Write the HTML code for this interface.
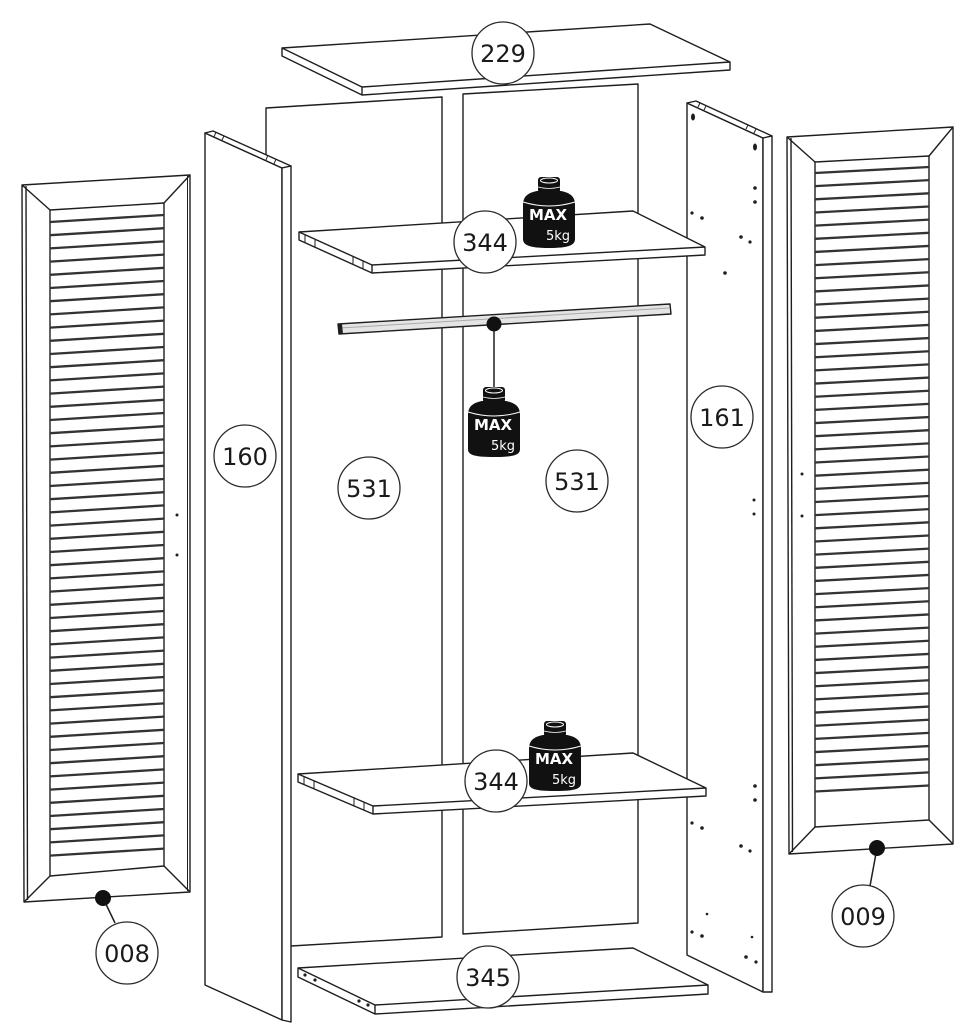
<!DOCTYPE html>
<html><head><meta charset="utf-8">
<style>
html,body{margin:0;padding:0;background:#fff;}
svg{display:block;}
.l{fill:#fff;stroke:#1e1e1e;stroke-width:1.4;stroke-linejoin:round;}
.n{fill:none;stroke:#1e1e1e;stroke-width:1.4;stroke-linejoin:round;}
.t{fill:none;stroke:#1e1e1e;stroke-width:1;}
.c{fill:#fff;stroke:#2a2a2a;stroke-width:1.3;}
.lbl{font-family:"DejaVu Sans","Liberation Sans",sans-serif;font-size:24px;fill:#1a1a1a;text-anchor:middle;}
.slat{fill:none;stroke:#333;stroke-width:2.3;}
.mx{font-family:"DejaVu Sans","Liberation Sans",sans-serif;font-weight:bold;fill:#fff;text-anchor:middle;font-size:15px;}
.kg{font-family:"DejaVu Sans","Liberation Sans",sans-serif;font-weight:normal;fill:#fff;text-anchor:middle;font-size:13px;}
</style></head><body>
<svg width="969" height="1024" viewBox="0 0 969 1024">

<!-- back panels -->
<polygon class="l" points="266,108 442,97 442,937 266,947.5"/>
<polygon class="l" points="463,94 638,84 638,923 463,934"/>

<!-- right side panel 161 -->
<polygon class="l" points="687,103 763,138 763,992 687,955"/>
<polygon class="l" points="687,103 696,101 772,136 763,138"/>
<polygon class="l" points="763,138 772,136 772,992 763,992"/>
<line class="t" x1="700" y1="103" x2="698" y2="107"/>
<line class="t" x1="706" y1="106" x2="704" y2="110"/>
<line class="t" x1="748" y1="125" x2="746" y2="129"/>
<line class="t" x1="756" y1="129" x2="754" y2="133"/>
<g fill="#1e1e1e">
<ellipse cx="693" cy="117" rx="2" ry="3.5"/>
<ellipse cx="755" cy="147" rx="2" ry="3.5"/>
<circle cx="755" cy="188" r="1.8"/><circle cx="755" cy="202" r="1.8"/>
<circle cx="692" cy="213" r="1.6"/><circle cx="702" cy="218" r="1.8"/>
<circle cx="741" cy="237" r="1.8"/><circle cx="750" cy="242" r="1.6"/>
<circle cx="725" cy="273" r="1.8"/>
<circle cx="754" cy="500" r="1.5"/><circle cx="754" cy="514" r="1.5"/>
<circle cx="755" cy="786" r="1.8"/><circle cx="755" cy="800" r="1.8"/>
<circle cx="692" cy="823" r="1.6"/><circle cx="702" cy="828" r="1.8"/>
<circle cx="741" cy="846" r="1.8"/><circle cx="750" cy="851" r="1.6"/>
<circle cx="707" cy="914" r="1.3"/>
<circle cx="692" cy="932" r="1.6"/><circle cx="702" cy="936" r="1.8"/>
<circle cx="752" cy="937" r="1.3"/>
<circle cx="746" cy="957" r="1.8"/><circle cx="756" cy="962" r="1.6"/>
</g>

<!-- left side panel 160 -->
<polygon class="l" points="205,133 282,168 282,1020 205,985"/>
<polygon class="l" points="205,133 213,131 291,166 282,168"/>
<polygon class="l" points="282,168 291,166 291,1022 282,1020"/>
<line class="t" x1="216" y1="132" x2="214" y2="137"/>
<line class="t" x1="224" y1="136" x2="222" y2="140"/>
<line class="t" x1="268" y1="155" x2="266" y2="160"/>
<line class="t" x1="276" y1="159" x2="274" y2="164"/>

<!-- top 229 -->
<polygon class="l" points="282,48 650,24 730,62 730,70 362,95 282,56"/>
<polyline class="n" points="282,48 362,87 730,62"/>
<line class="n" x1="362" y1="87" x2="362" y2="95"/>

<!-- upper shelf 344 -->
<polygon class="l" points="299,232 633,211 705,247 705,255 372,273 299,240"/>
<polyline class="n" points="299,232 372,265 705,247"/>
<line class="n" x1="372" y1="265" x2="372" y2="273"/>
<line class="t" x1="305" y1="235" x2="305" y2="243"/>
<line class="t" x1="315" y1="240" x2="315" y2="248"/>
<line class="t" x1="353" y1="257" x2="353" y2="265"/>
<line class="t" x1="363" y1="261" x2="363" y2="269"/>

<!-- lower shelf 344 -->
<polygon class="l" points="298,774 633,753 706,788 706,796 373,814 298,782"/>
<polyline class="n" points="298,774 373,806 706,788"/>
<line class="n" x1="373" y1="806" x2="373" y2="814"/>
<line class="t" x1="304" y1="777" x2="304" y2="785"/>
<line class="t" x1="314" y1="781" x2="314" y2="789"/>
<line class="t" x1="354" y1="798" x2="354" y2="806"/>
<line class="t" x1="364" y1="802" x2="364" y2="810"/>

<!-- bottom 345 -->
<polygon class="l" points="298,968 633,948 708,985 708,994 375,1014 298,977"/>
<polyline class="n" points="298,968 375,1005 708,985"/>
<line class="n" x1="375" y1="1005" x2="375" y2="1014"/>
<g fill="#1e1e1e">
<circle cx="305" cy="975" r="1.6"/><circle cx="315" cy="980" r="1.6"/>
<circle cx="359" cy="1001" r="1.6"/><circle cx="368" cy="1005" r="1.6"/>
</g>

<!-- rail -->
<polygon points="338,324 670,304 671,314 339,334" fill="#e4e4e4" stroke="#1e1e1e" stroke-width="1.4" stroke-linejoin="round"/>
<line x1="340" y1="328" x2="669" y2="308" stroke="#aaa" stroke-width="1"/>
<polygon points="338,324 342,324 343,334 339,334" fill="#1e1e1e"/>
<line x1="494" y1="324" x2="494" y2="389" stroke="#1e1e1e" stroke-width="1.5"/>
<circle cx="494" cy="324" r="7.5" fill="#111"/>

<!-- weights -->
<g transform="translate(549,177)">
 <path d="M-12,14 L12,14 C22,16 26,20 26,28 L26,62 C26,68 20,71 0,71 C-20,71 -26,68 -26,62 L-26,28 C-26,20 -22,16 -12,14 Z" fill="#111"/>
 <rect x="-11" y="0" width="22" height="16" rx="3" fill="#111"/>
 <ellipse cx="0" cy="3.5" rx="8.5" ry="2.5" fill="none" stroke="#fff" stroke-width="1"/>
 <path d="M-11,10 Q0,13 11,10" stroke="#fff" fill="none" stroke-width="0.8"/>
 <path d="M-26,25 Q0,33 26,25" stroke="#fff" fill="none" stroke-width="1"/>
 <text class="mx" x="-1" y="43">MAX</text>
 <text class="kg" x="9" y="63">5kg</text>
</g>
<g transform="translate(494,387)">
 <path d="M-12,14 L12,14 C22,16 26,20 26,28 L26,62 C26,68 20,70 0,70 C-20,70 -26,68 -26,62 L-26,28 C-26,20 -22,16 -12,14 Z" fill="#111"/>
 <rect x="-11" y="0" width="22" height="16" rx="3" fill="#111"/>
 <ellipse cx="0" cy="3.5" rx="8.5" ry="2.5" fill="none" stroke="#fff" stroke-width="1"/>
 <path d="M-11,10 Q0,13 11,10" stroke="#fff" fill="none" stroke-width="0.8"/>
 <path d="M-26,25 Q0,33 26,25" stroke="#fff" fill="none" stroke-width="1"/>
 <text class="mx" x="-1" y="43">MAX</text>
 <text class="kg" x="9" y="63">5kg</text>
</g>
<g transform="translate(555,721)">
 <path d="M-12,14 L12,14 C22,16 26,20 26,28 L26,62 C26,68 20,70 0,70 C-20,70 -26,68 -26,62 L-26,28 C-26,20 -22,16 -12,14 Z" fill="#111"/>
 <rect x="-11" y="0" width="22" height="16" rx="3" fill="#111"/>
 <ellipse cx="0" cy="3.5" rx="8.5" ry="2.5" fill="none" stroke="#fff" stroke-width="1"/>
 <path d="M-11,10 Q0,13 11,10" stroke="#fff" fill="none" stroke-width="0.8"/>
 <path d="M-26,25 Q0,33 26,25" stroke="#fff" fill="none" stroke-width="1"/>
 <text class="mx" x="-1" y="43">MAX</text>
 <text class="kg" x="9" y="63">5kg</text>
</g>

<!-- left door 008 -->
<polygon class="l" points="22,185 190,175 190,892 24,902"/>
<line class="n" x1="26" y1="186" x2="27.5" y2="900"/>
<line class="t" x1="187.5" y1="176" x2="187.5" y2="891"/>
<polygon class="l" points="50,210 164,203 164,866 50,876"/>
<line class="n" x1="22" y1="185" x2="50" y2="210"/>
<line class="n" x1="190" y1="175" x2="164" y2="203"/>
<line class="n" x1="190" y1="892" x2="164" y2="866"/>
<line class="n" x1="24" y1="902" x2="50" y2="876"/>
<path class="slat" d="M50,222 l114,-7 m-114,20.2 l114,-7 m-114,20.2 l114,-7 m-114,20.2 l114,-7 m-114,20.2 l114,-7 m-114,20.2 l114,-7 m-114,20.2 l114,-7 m-114,20.2 l114,-7 m-114,20.2 l114,-7 m-114,20.2 l114,-7 m-114,20.2 l114,-7 m-114,20.2 l114,-7 m-114,20.2 l114,-7 m-114,20.2 l114,-7 m-114,20.2 l114,-7 m-114,20.2 l114,-7 m-114,20.2 l114,-7 m-114,20.2 l114,-7 m-114,20.2 l114,-7 m-114,20.2 l114,-7 m-114,20.2 l114,-7 m-114,20.2 l114,-7 m-114,20.2 l114,-7 m-114,20.2 l114,-7 m-114,20.2 l114,-7 m-114,20.2 l114,-7 m-114,20.2 l114,-7 m-114,20.2 l114,-7 m-114,20.2 l114,-7 m-114,20.2 l114,-7 m-114,20.2 l114,-7 m-114,20.2 l114,-7 m-114,20.2 l114,-7 m-114,20.2 l114,-7 m-114,20.2 l114,-7 m-114,20.2 l114,-7 m-114,20.2 l114,-7 m-114,20.2 l114,-7 m-114,20.2 l114,-7 m-114,20.2 l114,-7 m-114,20.2 l114,-7 m-114,20.2 l114,-7 m-114,20.2 l114,-7 m-114,20.2 l114,-7 m-114,20.2 l114,-7 m-114,20.2 l114,-7 m-114,20.2 l114,-7 m-114,20.2 l114,-7 m-114,20.2 l114,-7"/>
<circle cx="177" cy="515" r="1.5" fill="#1e1e1e"/>
<circle cx="177" cy="555" r="1.5" fill="#1e1e1e"/>

<!-- right door 009 -->
<polygon class="l" points="787,137 953,127 953,844 789,854"/>
<line class="n" x1="791" y1="138" x2="792.5" y2="852"/>
<polygon class="l" points="815,162 929,156 929,820 815,827"/>
<line class="n" x1="787" y1="137" x2="815" y2="162"/>
<line class="n" x1="953" y1="127" x2="929" y2="156"/>
<line class="n" x1="953" y1="844" x2="929" y2="820"/>
<line class="n" x1="789" y1="854" x2="815" y2="827"/>
<path class="slat" d="M815,173 l114,-6 m-114,19.16 l114,-6 m-114,19.16 l114,-6 m-114,19.16 l114,-6 m-114,19.16 l114,-6 m-114,19.16 l114,-6 m-114,19.16 l114,-6 m-114,19.16 l114,-6 m-114,19.16 l114,-6 m-114,19.16 l114,-6 m-114,19.16 l114,-6 m-114,19.16 l114,-6 m-114,19.16 l114,-6 m-114,19.16 l114,-6 m-114,19.16 l114,-6 m-114,19.16 l114,-6 m-114,19.16 l114,-6 m-114,19.16 l114,-6 m-114,19.16 l114,-6 m-114,19.16 l114,-6 m-114,19.16 l114,-6 m-114,19.16 l114,-6 m-114,19.16 l114,-6 m-114,19.16 l114,-6 m-114,19.16 l114,-6 m-114,19.16 l114,-6 m-114,19.16 l114,-6 m-114,19.16 l114,-6 m-114,19.16 l114,-6 m-114,19.16 l114,-6 m-114,19.16 l114,-6 m-114,19.16 l114,-6 m-114,19.16 l114,-6 m-114,19.16 l114,-6 m-114,19.16 l114,-6 m-114,19.16 l114,-6 m-114,19.16 l114,-6 m-114,19.16 l114,-6 m-114,19.16 l114,-6 m-114,19.16 l114,-6 m-114,19.16 l114,-6 m-114,19.16 l114,-6 m-114,19.16 l114,-6 m-114,19.16 l114,-6 m-114,19.16 l114,-6 m-114,19.16 l114,-6 m-114,19.16 l114,-6 m-114,19.16 l114,-6"/>
<circle cx="802" cy="474" r="1.5" fill="#1e1e1e"/>
<circle cx="802" cy="516" r="1.5" fill="#1e1e1e"/>

<!-- connectors -->
<line x1="103" y1="898" x2="115" y2="923" stroke="#1e1e1e" stroke-width="1.5"/>
<circle cx="103" cy="898" r="8" fill="#111"/>
<line x1="877" y1="848" x2="870" y2="886" stroke="#1e1e1e" stroke-width="1.5"/>
<circle cx="877" cy="848" r="8" fill="#111"/>

<!-- labels -->
<circle class="c" cx="503" cy="53" r="31"/><text class="lbl" x="503" y="62">229</text>
<circle class="c" cx="485" cy="242" r="31"/><text class="lbl" x="485" y="251">344</text>
<circle class="c" cx="245" cy="456" r="31"/><text class="lbl" x="245" y="465">160</text>
<circle class="c" cx="369" cy="488" r="31"/><text class="lbl" x="369" y="497">531</text>
<circle class="c" cx="577" cy="481" r="31"/><text class="lbl" x="577" y="490">531</text>
<circle class="c" cx="722" cy="417" r="31"/><text class="lbl" x="722" y="426">161</text>
<circle class="c" cx="496" cy="781" r="31"/><text class="lbl" x="496" y="790">344</text>
<circle class="c" cx="488" cy="977" r="31"/><text class="lbl" x="488" y="986">345</text>
<circle class="c" cx="127" cy="953" r="31"/><text class="lbl" x="127" y="962">008</text>
<circle class="c" cx="863" cy="916" r="31"/><text class="lbl" x="863" y="925">009</text>

</svg>
</body></html>
